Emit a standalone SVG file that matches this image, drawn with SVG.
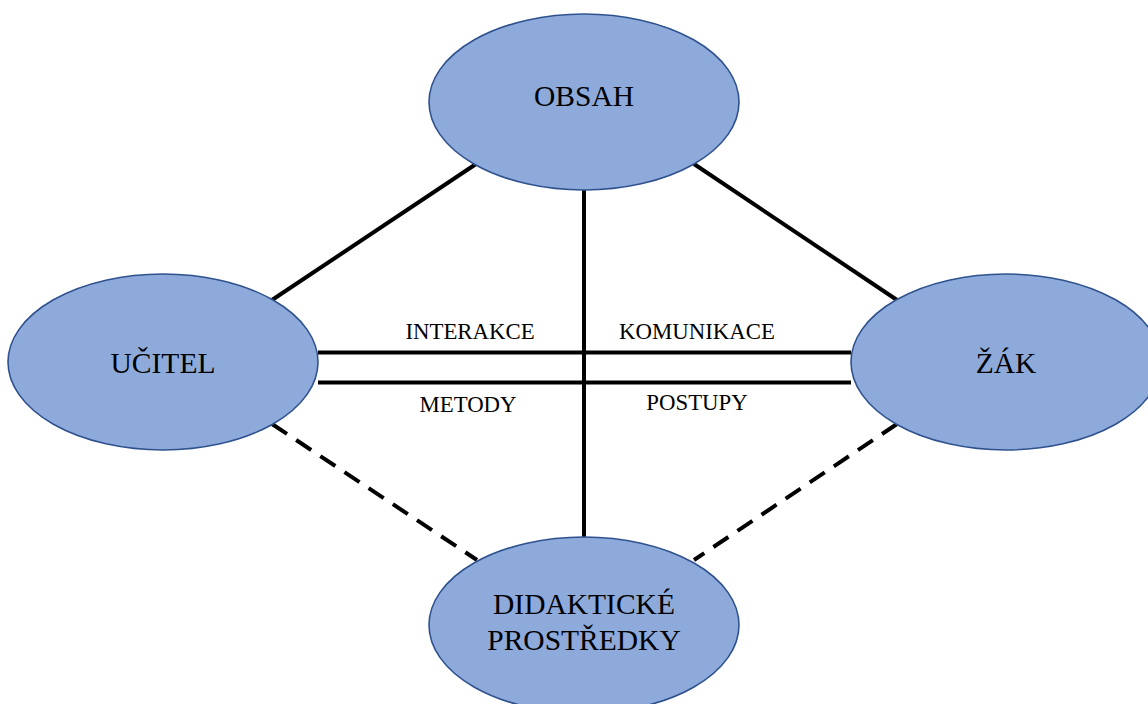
<svg xmlns="http://www.w3.org/2000/svg" width="1148" height="704" viewBox="0 0 1148 704">
<style>
.node{fill:#8EAADB;stroke:#2F528F;stroke-width:1.6}
.lbl{font-family:"Liberation Serif","Times New Roman",serif;font-size:29.5px;fill:#000;text-anchor:middle}
.sm{font-family:"Liberation Serif","Times New Roman",serif;font-size:22.8px;fill:#000;text-anchor:middle}
.ln{stroke:#000;stroke-width:4;fill:none}
.dash{stroke:#000;stroke-width:4;fill:none;stroke-dasharray:18 11}
</style>
<rect width="1148" height="704" fill="#fff"/>
<g id="connectors">
<line class="ln" x1="272" y1="300" x2="476" y2="164"/>
<line class="ln" x1="694" y1="164" x2="897" y2="300"/>
<line class="ln" x1="584" y1="189" x2="584" y2="538"/>
<line class="ln" x1="318" y1="352.5" x2="851" y2="352.5"/>
<line class="ln" x1="318" y1="382.5" x2="851" y2="382.5"/>
<line class="dash" x1="272" y1="424" x2="477" y2="560"/>
<line class="dash" x1="897" y1="424" x2="694" y2="560"/>
<text class="sm" x="470" y="339">INTERAKCE</text>
<text class="sm" x="697" y="339">KOMUNIKACE</text>
<text class="sm" x="468" y="412">METODY</text>
<text class="sm" x="697" y="410">POSTUPY</text>
</g>
<g id="obsah">
<ellipse class="node" cx="584" cy="102" rx="155" ry="88"/>
<text class="lbl" x="584" y="106">OBSAH</text>
</g>
<g id="ucitel">
<ellipse class="node" cx="163" cy="362" rx="155" ry="88"/>
<text class="lbl" x="163" y="373">UČITEL</text>
</g>
<g id="zak">
<ellipse class="node" cx="1006" cy="362" rx="155" ry="88"/>
<text class="lbl" x="1006" y="373">ŽÁK</text>
</g>
<g id="didakticke">
<ellipse class="node" cx="584" cy="625" rx="155" ry="88"/>
<text class="lbl" x="584" y="614">DIDAKTICKÉ</text>
<text class="lbl" x="584" y="650">PROSTŘEDKY</text>
</g>
</svg>
